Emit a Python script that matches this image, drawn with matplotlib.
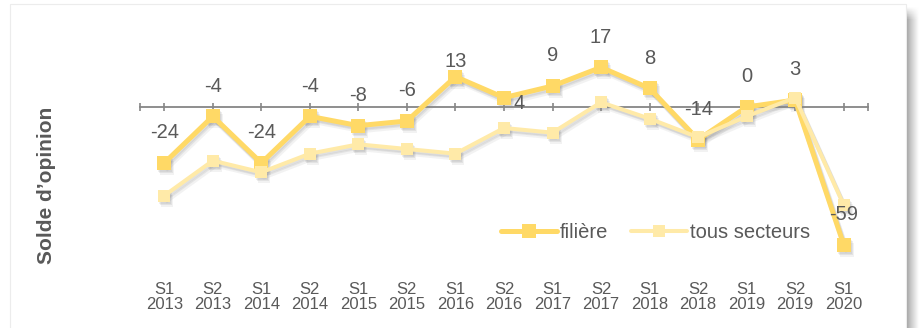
import numpy as np
import matplotlib
matplotlib.use("Agg")
import matplotlib.pyplot as plt
from matplotlib.transforms import offset_copy, blended_transform_factory
from matplotlib.patches import Rectangle

plt.rcParams['font.family'] = ['Liberation Sans', 'DejaVu Sans']

periodes = ['S1\n2013', 'S2\n2013', 'S1\n2014', 'S2\n2014', 'S1\n2015',
            'S2\n2015', 'S1\n2016', 'S2\n2016', 'S1\n2017', 'S2\n2017',
            'S1\n2018', 'S2\n2018', 'S1\n2019', 'S2\n2019', 'S1\n2020']
filiere = [-24, -4, -24, -4, -8, -6, 13, 4, 9, 17, 8, -14, 0, 3, -59]
tous_secteurs = [-38, -23, -28, -20, -16, -18, -20, -9, -11, 2, -5, -13, -4, 4, -42]

GRIS = '#595959'
JAUNE = '#FFD966'
JAUNE_CLAIR = '#FFEAA8'

W, H = 919, 328
fig = plt.figure(figsize=(W / 100, H / 100), dpi=100)
fig.patch.set_facecolor('white')

# cadre du graphique + ombre portée à droite
fig.add_artist(Rectangle((10 / W, -0.1), (906 - 10) / W, 1.1 - 4 / H,
                         transform=fig.transFigure, fill=False,
                         edgecolor='#ececec', lw=0.8))
ax_ombre = fig.add_axes([906 / W, 0, 13 / W, 1 - 6 / H])
t = np.linspace(0, 1, 60)
col = 0.6 + 0.4 * t ** 0.8
rows = np.linspace(0, 1, 200)
fade = np.clip((1 - rows) / 0.04, 0, 1)[:, None]  # haut adouci
img = 1 - (1 - col[None, :]) * fade
ax_ombre.imshow(np.dstack([img, img, img]), aspect='auto', origin='lower',
                extent=(0, 1, 0, 1))
ax_ombre.axis('off')

ax = fig.add_axes([140 / W, (H - 270.33) / H, 728 / W, 233.33 / H])
x = np.arange(len(periodes))
ax.set_xlim(-0.5, len(periodes) - 0.5)
ax.set_ylim(-70, 30)


def ombre(y, lw, ms):
    for dx, dy, a in [(1, -2, 0.07), (2, -3, 0.08), (3, -5, 0.06)]:
        tr = offset_copy(ax.transData, fig=fig, x=dx, y=dy, units='dots')
        ax.plot(x, y, color='#303030', alpha=a, lw=lw, marker='s', ms=ms,
                markeredgewidth=0, transform=tr, zorder=1)


ombre(filiere, 3.6, 10)
ombre(tous_secteurs, 2.9, 9)
l1, = ax.plot(x, filiere, color=JAUNE, lw=3.6, marker='s', ms=10,
              markeredgewidth=0, solid_capstyle='round', zorder=3,
              label='filière')
l2, = ax.plot(x, tous_secteurs, color=JAUNE_CLAIR, lw=2.9, marker='s', ms=9,
              markeredgewidth=0, solid_capstyle='round', zorder=4,
              label='tous secteurs')

# axe horizontal au niveau zéro
for s in ['left', 'right', 'top']:
    ax.spines[s].set_visible(False)
ax.spines['bottom'].set_position(('data', 0))
ax.spines['bottom'].set_color('#868686')
ax.spines['bottom'].set_linewidth(1.3)
ax.spines['bottom'].set_zorder(2)
ax.set_xticks(list(x) + [-0.5, len(periodes) - 0.5])
ax.tick_params(axis='x', direction='inout', length=6, width=1.2,
               color='#868686', labelbottom=False)
ax.set_yticks([])
ax.patch.set_alpha(0)

# étiquettes de catégories sous le graphique
trans = blended_transform_factory(ax.transData, fig.transFigure)
for i, p in enumerate(periodes):
    ax.text(i, 1 - 297 / H, p, transform=trans, ha='center', va='center',
            fontsize=12, color=GRIS, linespacing=1.08)

# valeurs de la filière
for i, v in enumerate(filiere):
    dx, dy = 0, 21.6
    if i == 6:
        dy = 10.8
    elif i == 7:
        dx, dy = 10.8, -4.3
    ax.annotate(str(v), (i, v), xytext=(dx, dy), textcoords='offset points',
                ha='center', va='center', fontsize=14.5, color=GRIS, zorder=6)

fig.text(47 / W, 1 - 185 / H, 'Solde d’opinion', rotation=90, ha='center',
         va='center', fontsize=15, fontweight='bold', color=GRIS)

ax.legend(handles=[l1, l2], loc='center', bbox_to_anchor=(0.708, 0.16),
          ncol=2, frameon=False, fontsize=14.5, handlelength=2.8,
          handletextpad=0.15, columnspacing=1.1, numpoints=1,
          labelcolor=GRIS, borderpad=0, borderaxespad=0)

fig.savefig('out.png', dpi=100, facecolor='white')
